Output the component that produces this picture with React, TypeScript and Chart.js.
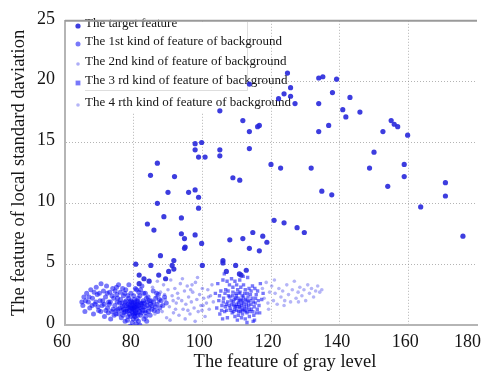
import React, { useEffect, useRef } from 'react';
import { Chart, registerables } from 'chart.js';

Chart.register(...registerables);

const xTicks = [60, 80, 100, 120, 140, 160, 180];
const yTicks = [0, 5, 10, 15, 20, 25];
const xTitle = 'The feature of gray level';
const yTitle = 'The feature of local standard daviation';
const seriesNames = [
  'The target feature',
  'The 1st kind of feature of background',
  'The 2nd kind of feature of background',
  'The 3 rd kind of feature of background',
  'The 4 rth kind of feature of background',
];

const targetPts: [number, number][] = [
  [124.8, 20.7], [133.9, 20.3], [135.1, 20.4], [139.1, 20.2], [113.7, 19.8], [125.7, 19.5], [123.8, 19.0],
  [122.2, 18.6], [125.7, 18.8], [127.0, 18.2], [137.9, 19.1], [143.0, 18.7], [133.9, 18.2], [140.9, 17.7],
  [145.9, 17.5], [141.8, 17.1], [105.1, 17.6], [111.8, 16.8], [116.6, 16.4], [116.1, 16.3], [113.7, 15.9],
  [136.8, 16.4], [133.9, 15.9], [155.0, 16.8], [155.9, 16.5], [156.9, 16.3], [152.6, 15.9], [159.8, 15.6],
  [97.9, 14.9], [97.9, 14.4], [99.8, 15.0], [98.9, 13.8], [100.8, 13.8], [105.1, 14.4], [105.1, 13.9],
  [113.7, 14.5], [86.9, 13.3], [84.9, 12.3], [91.9, 12.2], [108.9, 12.1], [110.9, 11.9], [120.0, 13.2],
  [122.8, 12.9], [131.7, 12.9], [148.7, 12.9], [150.0, 14.2], [158.8, 13.2], [158.8, 12.2], [154.0, 11.4],
  [170.8, 11.7], [170.8, 10.6], [163.6, 9.7], [175.9, 7.3], [134.8, 11.0], [137.7, 10.7], [90.0, 10.9],
  [96.0, 10.9], [97.9, 11.1], [98.9, 10.5], [98.9, 9.6], [86.9, 10.0], [88.8, 8.9], [93.9, 8.8], [84.0, 8.3],
  [85.9, 7.8], [93.9, 7.5], [94.8, 7.1], [97.9, 7.4], [94.8, 6.3], [99.8, 6.7], [87.8, 5.7], [91.7, 5.3],
  [120.9, 8.6], [123.8, 8.4], [127.6, 8.0], [129.7, 7.6], [108.0, 7.0], [111.8, 7.1], [114.7, 7.6],
  [117.6, 7.3], [118.8, 6.8], [113.7, 6.3], [116.6, 6.1], [106.0, 5.3], [95.0, 6.4],
  [80.6, 5.0], [85.0, 4.9], [91.2, 4.9], [100.0, 4.9], [106.0, 5.1], [109.7, 4.9], [81.6, 4.1], [83.0, 3.8],
  [87.3, 4.1], [90.2, 4.4], [89.3, 3.8], [84.5, 3.6], [81.6, 3.4], [110.8, 4.2], [111.3, 4.1], [112.8, 4.5],
  [107.0, 4.4], [91.7, 4.6],
];

const bg1Pts: [number, number][] = [
  [65.2, 1.6], [65.5, 2.3], [65.8, 1.1], [66.3, 2.6], [66.8, 1.9], [67.2, 1.4], [67.5, 2.9], [68.0, 2.2],
  [68.3, 0.9], [68.7, 1.7], [69.1, 3.1], [69.4, 2.5], [69.8, 1.2], [70.2, 2.0], [70.5, 3.4], [70.8, 1.6],
  [71.2, 2.8], [71.5, 0.7], [71.8, 2.3], [72.1, 3.2], [72.4, 1.4], [72.7, 1.9], [73.0, 2.7], [73.3, 0.5],
  [73.6, 1.1], [73.9, 3.0], [74.2, 2.2], [74.5, 1.6], [74.8, 0.9], [75.1, 2.5], [75.4, 1.3], [75.6, 3.3],
  [75.9, 1.8], [76.2, 2.1], [76.4, 0.6], [76.7, 1.5], [77.0, 2.4], [77.2, 1.0], [77.5, 1.9], [77.7, 2.9],
  [78.0, 1.3], [78.2, 0.4], [78.4, 1.7], [78.6, 2.2], [78.8, 0.9], [79.0, 1.5], [79.2, 2.6], [79.4, 1.1],
  [79.6, 0.2], [79.8, 1.8], [80.0, 1.3], [80.2, 2.1], [80.4, 0.7], [80.6, 1.6], [80.8, 2.9], [81.0, 1.0],
  [81.2, 1.9], [81.4, 0.3], [81.6, 1.4], [81.8, 2.4], [82.0, 0.8], [82.2, 1.7], [82.4, 3.2], [82.6, 1.2],
  [82.8, 2.0], [83.0, 0.5], [83.2, 1.5], [83.4, 2.6], [83.6, 1.0], [83.9, 1.9], [84.2, 2.3], [84.5, 1.4],
  [84.8, 0.8], [85.1, 2.0], [85.4, 1.6], [85.7, 2.8], [86.0, 1.2], [86.4, 2.2], [86.8, 1.7], [87.2, 2.5],
  [87.6, 1.4], [88.0, 2.0], [88.5, 1.6], [89.0, 2.3], [89.5, 1.8],
  [76.5, 1.2], [77.3, 1.6], [78.1, 1.1], [78.9, 1.9], [79.3, 1.4], [79.7, 1.0], [80.1, 1.7], [80.5, 1.2],
  [80.9, 1.5], [81.3, 2.2], [81.7, 1.1], [82.1, 1.4], [78.5, 1.4], [79.5, 1.6], [80.3, 0.9], [81.1, 1.3],
  [77.8, 2.0], [82.5, 1.8], [83.3, 1.2], [76.0, 1.4], [75.2, 1.9], [74.0, 1.3], [79.9, 0.5], [80.7, 0.1],
  [78.3, 2.4], [81.5, 2.7], [77.4, 2.6], [74.6, 2.8], [72.9, 1.7], [71.0, 2.0],
  [73.2, 1.9], [73.7, 2.4], [74.3, 0.8], [74.9, 1.2], [75.3, 2.2], [75.7, 0.9], [76.1, 2.7], [76.6, 1.8],
  [76.9, 0.8], [77.1, 1.3], [77.6, 1.1], [77.9, 1.6], [78.3, 0.7], [78.7, 1.2], [79.1, 2.0], [79.1, 0.7],
  [79.4, 1.9], [79.8, 1.4], [80.0, 2.4], [80.2, 1.5], [80.4, 1.9], [80.6, 1.0], [80.8, 0.5], [81.0, 1.7],
  [81.2, 0.8], [81.4, 1.6], [81.9, 1.8], [82.3, 1.0], [82.7, 1.5], [82.9, 2.6], [83.1, 1.8], [83.5, 0.7],
  [83.7, 2.2], [84.0, 1.6], [84.3, 1.1], [84.6, 2.0], [84.9, 1.7], [85.3, 1.3], [85.8, 1.9], [86.3, 1.5],
  [86.7, 2.6], [87.0, 1.1], [87.5, 2.1], [67.9, 1.6], [68.5, 2.7], [69.0, 1.9], [69.6, 1.5], [70.0, 2.6],
  [70.4, 1.1], [71.4, 1.7], [71.9, 1.2], [72.3, 2.6], [72.6, 1.0], [66.0, 2.0], [67.0, 2.3], [64.9, 1.9],
  [75.0, 3.1], [76.8, 3.0], [78.6, 3.3], [80.5, 3.0], [82.0, 2.9], [79.0, -0.1], [81.8, 0.0], [77.5, 0.3],
  [83.8, 0.3], [80.0, 0.8], [79.6, 1.3], [80.3, 1.4], [81.0, 2.0], [78.8, 1.6],
];

const bg2Pts: [number, number][] = [
  [85.5, 3.1], [86.2, 0.9], [86.9, 3.6], [87.3, 1.9], [87.8, 2.7], [88.3, 1.1], [88.7, 3.3], [89.2, 2.1],
  [89.6, 0.6], [90.0, 2.9], [90.4, 1.5], [90.8, 3.7], [91.2, 2.4], [91.6, 1.0], [92.0, 3.0], [92.4, 1.8],
  [92.8, 2.6], [93.2, 0.8], [93.6, 3.4], [94.0, 2.0], [94.4, 1.3], [94.8, 2.8], [95.2, 1.7], [95.6, 3.2],
  [96.0, 2.3], [96.4, 0.9], [96.8, 1.9], [97.2, 2.7], [97.6, 1.4], [98.0, 3.5], [98.4, 2.1], [98.8, 1.1],
  [99.2, 2.5], [99.6, 1.6], [100.0, 3.0], [100.4, 2.2], [100.8, 0.7], [101.2, 1.8], [101.6, 2.9], [102.0, 1.3],
  [102.4, 2.4], [102.8, 3.3], [103.2, 1.9], [90.6, 0.4], [95.0, 0.5], [97.9, 0.3], [99.9, 1.2], [88.0, 1.6],
  [91.5, 2.0], [94.2, 3.8], [96.6, 2.9], [98.6, 3.9], [89.0, 2.5], [93.0, 2.2], [95.8, 1.2], [97.0, 3.3],
  [100.2, 1.6], [101.8, 2.3], [86.6, 2.3], [92.2, 1.3],
];

const bg3Pts: [number, number][] = [
  [103.8, 2.6], [104.2, 1.4], [104.5, 3.4], [104.8, 2.0], [105.1, 0.9], [105.4, 2.8], [105.7, 1.6], [106.0, 3.7],
  [106.2, 2.2], [106.5, 1.1], [106.8, 2.9], [107.0, 1.7], [107.3, 0.6], [107.6, 2.4], [107.9, 3.3], [108.1, 1.4],
  [108.4, 2.0], [108.7, 1.0], [108.9, 2.7], [109.2, 1.6], [109.5, 3.6], [109.7, 2.2], [110.0, 1.2], [110.2, 0.4],
  [110.5, 1.9], [110.7, 2.6], [111.0, 1.4], [111.2, 3.1], [111.5, 1.8], [111.7, 0.9], [112.0, 2.3], [112.2, 1.5],
  [112.5, 2.9], [112.7, 1.1], [113.0, 2.0], [113.2, 3.9], [113.5, 1.6], [113.7, 0.7], [114.0, 2.5], [114.3, 1.3],
  [114.6, 3.2], [114.9, 1.9], [115.2, 0.4], [115.5, 2.2], [115.8, 1.0], [116.1, 2.8], [116.5, 1.6], [116.9, 3.4],
  [117.3, 2.1], [117.7, 2.6], [109.0, 1.9], [109.9, 1.7], [110.8, 1.5], [111.3, 2.1], [111.9, 1.3], [112.8, 1.7],
  [113.3, 2.3], [108.0, 2.3], [107.4, 1.9], [106.7, 1.5], [110.3, 2.9], [112.3, 2.6], [110.6, 1.1], [111.6, 2.4],
  [109.4, 1.3], [113.8, 1.1], [114.8, 0.3], [115.0, 0.8], [105.9, 0.5], [108.5, 3.8], [111.9, 4.0], [106.4, 4.2],
  [105.0, 2.4], [105.6, 1.2], [106.1, 1.9], [106.6, 2.6], [107.1, 1.2], [107.5, 2.8], [107.8, 1.6], [108.3, 1.2],
  [108.6, 1.7], [108.8, 2.4], [109.1, 1.1], [109.3, 2.1], [109.6, 1.5], [109.8, 2.6], [110.1, 1.5], [110.4, 2.2],
  [110.6, 1.7], [110.9, 2.0], [111.1, 1.1], [111.4, 1.6], [111.8, 2.0], [112.1, 1.8], [112.4, 1.2], [112.6, 2.1],
  [112.9, 1.4], [113.1, 2.6], [113.4, 1.9], [113.6, 1.3], [113.9, 2.0], [114.2, 1.7], [114.5, 2.2], [114.7, 1.1],
  [115.1, 1.5], [115.4, 1.8], [115.7, 2.5], [116.0, 1.3], [116.3, 2.0], [116.7, 1.0], [110.5, 0.8], [111.4, 0.6],
  [112.5, 0.5], [113.0, 0.2], [109.5, 0.7], [111.0, 2.7], [112.0, 3.3], [113.6, 3.0], [110.0, 3.3], [108.9, 3.1],
  [114.2, 2.8], [115.3, 3.0], [107.2, 3.6], [110.9, 3.7], [113.0, 1.0], [111.6, 1.2], [109.9, 2.4],
];

const bg4Pts: [number, number][] = [
  [117.5, 3.0], [118.0, 2.2], [118.6, 3.5], [119.1, 1.8], [119.6, 2.7], [120.2, 3.2], [120.7, 2.0], [121.2, 2.6],
  [121.8, 1.7], [122.3, 3.0], [122.9, 2.3], [123.4, 2.8], [124.0, 2.0], [124.6, 3.3], [125.1, 2.5], [125.7, 1.9],
  [126.2, 2.9], [126.8, 3.6], [127.3, 2.2], [127.9, 2.7], [128.4, 3.1], [129.0, 2.4], [129.6, 2.9], [130.1, 2.0],
  [130.7, 3.3], [131.2, 2.6], [131.8, 3.0], [132.4, 2.3], [133.0, 2.8], [133.6, 3.2], [134.2, 2.7], [134.8, 2.9],
  [119.3, 1.3], [121.0, 3.7], [123.8, 1.6], [128.0, 1.9],
];

const FONT = '"Liberation Serif", "Times New Roman", serif';

const toXY = (pts: [number, number][]) => pts.map(([x, y]) => ({ x, y }));

const markerStyles = [
  { style: 'circle', r: 2.6, color: 'rgba(40,40,220,0.9)' },
  { style: 'circle', r: 2.5, color: 'rgba(10,10,245,0.55)' },
  { style: 'circle', r: 1.8, color: 'rgba(50,50,235,0.4)' },
  { style: 'rect', r: 2.4, color: 'rgba(10,10,245,0.55)' },
  { style: 'circle', r: 1.8, color: 'rgba(70,70,235,0.4)' },
];

const frameAndLegend = {
  id: 'frameAndLegend',
  beforeDatasetsDraw(chart: any) {
    const { ctx, chartArea: a } = chart;
    ctx.save();
    ctx.fillStyle = '#ffffff';
    ctx.fillRect(a.left + 1, a.top + 1, 250 - a.left, 111 - a.top);
    ctx.strokeStyle = 'rgba(200,200,200,0.6)';
    ctx.lineWidth = 1;
    ctx.beginPath();
    ctx.moveTo(85, 90.5);
    ctx.lineTo(247.5, 90.5);
    ctx.lineTo(247.5, 22);
    ctx.stroke();
    const rows = [24, 42, 62, 81, 103];
    ctx.font = `13px ${FONT}`;
    ctx.textBaseline = 'middle';
    ctx.textAlign = 'left';
    seriesNames.forEach((name, i) => {
      const m = markerStyles[i];
      ctx.fillStyle = m.color;
      const my = rows[i] + 2;
      if (m.style === 'rect') ctx.fillRect(78 - m.r, my - m.r, m.r * 2, m.r * 2);
      else {
        ctx.beginPath();
        ctx.arc(78, my, m.r, 0, Math.PI * 2);
        ctx.fill();
      }
      ctx.fillStyle = '#151515';
      ctx.fillText(name, 85, rows[i]);
    });
    ctx.restore();
  },
  afterDraw(chart: any) {
    const { ctx, chartArea: a } = chart;
    ctx.save();
    ctx.strokeStyle = '#9a9a9a';
    ctx.lineWidth = 2;
    ctx.beginPath();
    ctx.moveTo(a.left, a.top);
    ctx.lineTo(a.right, a.top);
    ctx.stroke();
    const xs = chart.scales.x;
    ctx.font = `18px ${FONT}`;
    ctx.fillStyle = '#151515';
    ctx.textAlign = 'center';
    ctx.textBaseline = 'alphabetic';
    xTicks.forEach((v) => {
      const label = String(v);
      const w = ctx.measureText(label).width;
      const cx = Math.min(xs.getPixelForValue(v) - 3, chart.width - w / 2);
      ctx.fillText(label, cx, a.bottom + 22);
    });
    ctx.font = `18.5px ${FONT}`;
    ctx.fillText(xTitle, 285, a.bottom + 42);
    ctx.restore();
  },
};

export default function App() {
  const ref = useRef<HTMLCanvasElement | null>(null);
  useEffect(() => {
    if (!ref.current) return;
    const gridColor = (hide: number[]) => (c: any) =>
      c.tick && hide.includes(c.tick.value) ? 'rgba(0,0,0,0)' : 'rgba(130,130,130,0.6)';
    const datasets = [targetPts, bg1Pts, bg2Pts, bg3Pts, bg4Pts].map((pts, i) => ({
      label: seriesNames[i],
      data: toXY(pts),
      pointStyle: markerStyles[i].style,
      pointRadius: markerStyles[i].r,
      backgroundColor: markerStyles[i].color,
      borderColor: markerStyles[i].color,
      borderWidth: 0,
    }));
    const chart = new Chart(ref.current, {
      type: 'scatter',
      data: { datasets },
      plugins: [frameAndLegend],
      options: {
        animation: false,
        responsive: false,
        devicePixelRatio: 1,
        layout: { padding: { top: 15, left: 0, right: 0, bottom: 0 } },
        plugins: { legend: { display: false }, tooltip: { enabled: false } },
        scales: {
          x: {
            type: 'linear',
            min: xTicks[0],
            max: xTicks[xTicks.length - 1],
            afterBuildTicks: (s: any) => { s.ticks = xTicks.map((v) => ({ value: v })); },
            afterFit: (s: any) => { s.height = 51; s.paddingLeft = 0; s.paddingRight = 0; },
            ticks: { display: false },
            grid: { color: gridColor([60, 180]), lineWidth: 1, drawTicks: false },
            border: { color: '#b5b5b5', width: 2, dash: [1, 2] },
          },
          y: {
            type: 'linear',
            min: yTicks[0],
            max: yTicks[yTicks.length - 1],
            afterBuildTicks: (s: any) => { s.ticks = yTicks.map((v) => ({ value: v })); },
            afterFit: (s: any) => { s.width = 65; },
            ticks: {
              font: { family: FONT, size: 18 },
              color: '#151515',
              padding: 10,
              labelOffset: -2,
            },
            grid: { color: gridColor([0, 25]), lineWidth: 1, drawTicks: false },
            border: { color: '#b5b5b5', width: 2, dash: [1, 2] },
            title: {
              display: true,
              text: yTitle,
              font: { family: FONT, size: 18.5 },
              color: '#151515',
              padding: { top: 8, bottom: 0 },
            },
          },
        },
      },
    } as any);
    return () => chart.destroy();
  }, []);
  return (
    <div style={{ position: 'fixed', left: 0, top: 0, width: 481, height: 376, background: '#fff' }}>
      <canvas ref={ref} width={481} height={376} style={{ display: 'block' }} />
    </div>
  );
}
